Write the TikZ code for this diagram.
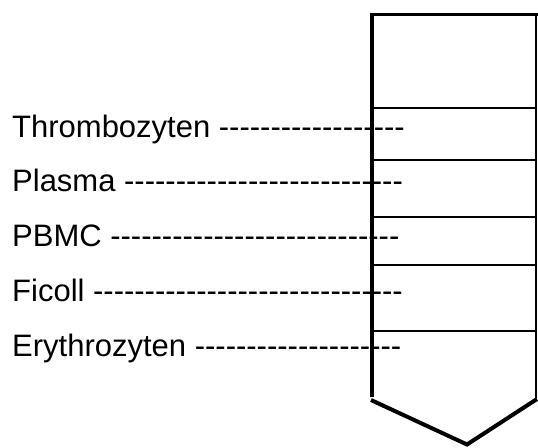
\documentclass[tikz,border=0pt]{standalone}
\usepackage{fontspec}
\setmainfont{Liberation Sans}[Ligatures=TeXOff]
\begin{document}
\begin{tikzpicture}[x=1pt,y=-1pt,
  layer/.style={line width=1.5pt},
  wall/.style={line width=4pt},
  lbl/.style={anchor=base west,inner sep=0pt,font=\fontsize{31}{31}\selectfont}]
\useasboundingbox (0,0) rectangle (538,447);
% tube outline
\draw[line width=3pt] (370,14) -- (538,14);
\draw[line width=2pt] (536,14) -- (536,399);
\draw[wall] (372,12.5) -- (372,397);
\draw[wall,line join=miter] (371,400) -- (467,444.5) -- (537,399);
% layer boundaries
\foreach \yy in {108,160,217,265,331}
  \draw[layer] (372,\yy) -- (536,\yy);
% labels
\node[lbl] (thr) at (12,137) {Thrombozyten ------------------};
\node[lbl] (pla) at (12,191) {Plasma ---------------------------};
\node[lbl] (pbm) at (12,246) {PBMC ----------------------------};
\node[lbl] (fic) at (12,301) {Ficoll ------------------------------};
\node[lbl] (ery) at (12,356) {Erythrozyten --------------------};
\end{tikzpicture}
\end{document}
